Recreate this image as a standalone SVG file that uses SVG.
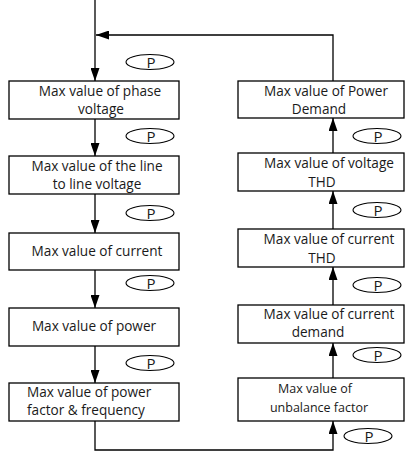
<svg xmlns="http://www.w3.org/2000/svg" width="405" height="452" viewBox="0 0 405 452">
<style>
.box{fill:#fff;stroke:#000;stroke-width:1.3}
.ln{fill:none;stroke:#000;stroke-width:1.3}
.p{fill:#fff;stroke:#000;stroke-width:1.1}
text{font-family:"Open Sans","Noto Sans",sans-serif;font-size:13.6px;fill:#1a1a1a}
.c{text-anchor:middle}
.pt{font-size:15px;text-anchor:middle}
.sm{font-size:12.5px}
</style>
<defs>
<marker id="ah" markerUnits="userSpaceOnUse" markerWidth="13" markerHeight="9" refX="13" refY="4.5" orient="auto">
<path d="M0,0 L13,4.5 L0,9 z" fill="#000"/>
</marker>
</defs>
<g id="connectors">
<line class="ln" x1="95" y1="0" x2="95" y2="81" marker-end="url(#ah)"/>
<polyline class="ln" points="333,81 333,35 96,35" marker-end="url(#ah)"/>
<line class="ln" x1="95" y1="119" x2="95" y2="156" marker-end="url(#ah)"/>
<line class="ln" x1="95" y1="194" x2="95" y2="233" marker-end="url(#ah)"/>
<line class="ln" x1="95" y1="270" x2="95" y2="308" marker-end="url(#ah)"/>
<line class="ln" x1="95" y1="346" x2="95" y2="383" marker-end="url(#ah)"/>
<polyline class="ln" points="95,421 95,450 333,450 333,421" marker-end="url(#ah)"/>
<line class="ln" x1="333" y1="378" x2="333" y2="343" marker-end="url(#ah)"/>
<line class="ln" x1="333" y1="305" x2="333" y2="267" marker-end="url(#ah)"/>
<line class="ln" x1="333" y1="229" x2="333" y2="191" marker-end="url(#ah)"/>
<line class="ln" x1="333" y1="153" x2="333" y2="118" marker-end="url(#ah)"/>
</g>
<g id="p-keys">
<g id="p1"><ellipse class="p" cx="150" cy="62" rx="24" ry="7.5"/><text class="pt" x="151" y="67.5">P</text></g>
<g id="p2"><ellipse class="p" cx="150" cy="136" rx="24" ry="7.5"/><text class="pt" x="151" y="141.5">P</text></g>
<g id="p3"><ellipse class="p" cx="150" cy="213" rx="24" ry="7.5"/><text class="pt" x="151" y="218.5">P</text></g>
<g id="p4"><ellipse class="p" cx="150" cy="283" rx="24" ry="7.5"/><text class="pt" x="151" y="288.5">P</text></g>
<g id="p5"><ellipse class="p" cx="150" cy="363" rx="24" ry="7.5"/><text class="pt" x="151" y="368.5">P</text></g>
<g id="p6"><ellipse class="p" cx="377" cy="136" rx="24" ry="7.5"/><text class="pt" x="378" y="141.5">P</text></g>
<g id="p7"><ellipse class="p" cx="377" cy="210" rx="24" ry="7.5"/><text class="pt" x="378" y="215.5">P</text></g>
<g id="p8"><ellipse class="p" cx="377" cy="285" rx="24" ry="7.5"/><text class="pt" x="378" y="290.5">P</text></g>
<g id="p9"><ellipse class="p" cx="377" cy="355" rx="24" ry="7.5"/><text class="pt" x="378" y="360.5">P</text></g>
<g id="p10"><ellipse class="p" cx="368" cy="436" rx="24" ry="7.5"/><text class="pt" x="369" y="441.5">P</text></g>
</g>
<g id="n1"><rect class="box" x="9" y="81" width="170" height="38"/><text class="c" x="100" y="96">Max value of phase</text><text class="c" x="101" y="114">voltage</text></g>
<g id="n2"><rect class="box" x="9" y="156" width="170" height="38"/><text class="c" x="97" y="171">Max value of the line</text><text class="c" x="97" y="189">to line voltage</text></g>
<g id="n3"><rect class="box" x="9" y="233" width="170" height="37"/><text class="c" x="97" y="256">Max value of current</text></g>
<g id="n4"><rect class="box" x="9" y="308" width="170" height="38"/><text class="c" x="94" y="331">Max value of power</text></g>
<g id="n5"><rect class="box" x="9" y="383" width="170" height="38"/><text x="27" y="397">Max value of power</text><text x="27" y="415">factor &amp; frequency</text></g>
<g id="n6"><rect class="box" x="238" y="81" width="166" height="37"/><text class="c" x="326" y="96">Max value of Power</text><text class="c" x="319" y="114">Demand</text></g>
<g id="n7"><rect class="box" x="238" y="153" width="166" height="38"/><text class="c" x="329" y="168">Max value of voltage</text><text class="c" x="322" y="187">THD</text></g>
<g id="n8"><rect class="box" x="238" y="229" width="166" height="38"/><text class="c" x="329" y="244">Max value of current</text><text class="c" x="322" y="263">THD</text></g>
<g id="n9"><rect class="box" x="238" y="305" width="166" height="38"/><text class="c" x="329" y="319">Max value of current</text><text class="c" x="318" y="337">demand</text></g>
<g id="n10"><rect class="box" x="238" y="378" width="166" height="43"/><text class="c sm" x="315" y="393">Max value of</text><text class="c sm" x="319" y="412">unbalance factor</text></g>
</svg>
